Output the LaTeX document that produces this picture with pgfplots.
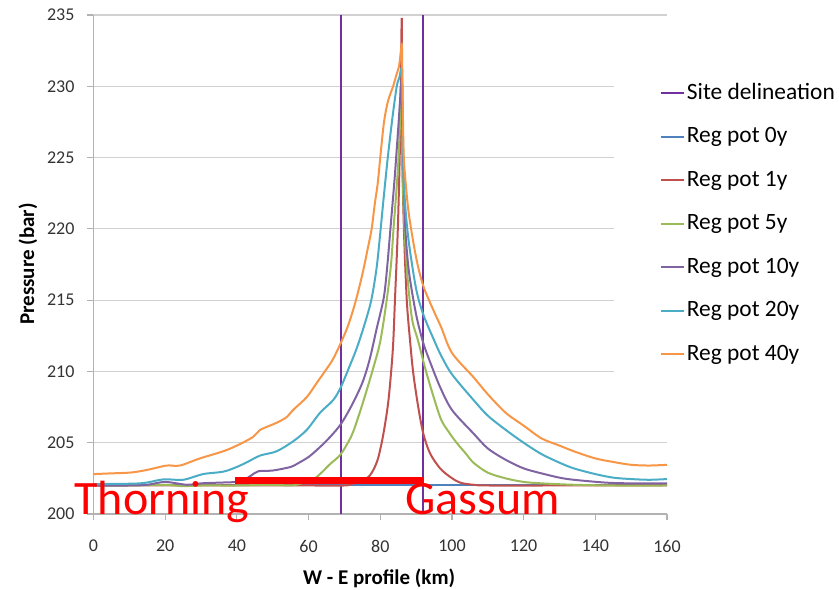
\documentclass[border=0pt]{standalone}
\usepackage{pgfplots}
\pgfplotsset{compat=1.18}
\usepackage{fontspec}
\setmainfont{Carlito}

\definecolor{sitecol}{HTML}{7030A0}
\definecolor{c0}{HTML}{4F81BD}
\definecolor{c1}{HTML}{C0504D}
\definecolor{c5}{HTML}{9BBB59}
\definecolor{c10}{HTML}{8064A2}
\definecolor{c20}{HTML}{4BACC6}
\definecolor{c40}{HTML}{F79646}

\begin{document}
\begin{tikzpicture}
\begin{axis}[
  at={(0,0)}, anchor=south west,
  width=286.75pt, height=249.5pt, scale only axis,
  xmin=0, xmax=160, ymin=200, ymax=235,
  xtick={0,20,...,160}, ytick={200,205,...,235},
  axis x line*=bottom, axis y line*=left,
  x axis line style={-}, y axis line style={-},
  axis line style={draw=black!30, line width=0.6pt},
  tick style={draw=black!30, line width=0.6pt},
  tick align=outside, major tick length=3pt,
  ymajorgrids, major grid style={draw=black!18, line width=0.6pt},
  /pgf/number format/assume math mode=true,
  tick label style={font=\fontsize{9}{10}\selectfont, text=black!80},
  xticklabel style={yshift=-6.5pt},
  yticklabel style={xshift=-3pt},
  xlabel={\textbf{W - E profile (km)}},
  ylabel={\textbf{Pressure (bar)}},
  label style={font=\fontsize{10.5}{12}\selectfont},
  xlabel style={at={(axis description cs:0.498,-0.128)}, anchor=center},
  ylabel style={at={(axis description cs:-0.1142,0.501)}, anchor=center, rotate=0},
  clip=false,
  unbounded coords=jump,
  legend cell align=left,
  legend image code/.code={\draw[#1] (0pt,0pt) -- (11.5pt,0pt);},
  legend style={at={(axis description cs:0.9076,0.8898)}, anchor=north west,
    draw=none, fill=white, font=\fontsize{11.7}{13}\selectfont,
    inner xsep=23pt, inner ysep=5.5pt, row sep=9.75pt,
    nodes={inner xsep=0.75pt, inner ysep=0pt, text height=9pt, text depth=3pt}},
  every axis plot/.append style={line width=1pt},
  curve/.style={smooth, tension=0.5},
]
% site delineation
\addplot[sitecol] coordinates {(69,200) (69,235) (92,nan) (92,235) (92,200)};
\addlegendentry{Site delineation}
% 0y
\addplot[c0] coordinates {(0,202.05) (20,202.05) (40,202.05) (60,202.05) (80,202.05) (100,202.05) (120,202.05) (140,202.05) (160,202.05)};
\addlegendentry{Reg pot 0y}
% 1y
\addplot[c1, curve] coordinates {(0,202.0) (20,202.0) (40,202.0) (60,202.0) (70,202.0) (72,202.1) (74,202.25) (76,202.45)
 (77.1,202.7) (78.3,203.2) (79.5,204.0) (80.9,205.65) (82.3,208.0) (83.5,211.5) (84.1,215) (84.9,220) (85.5,226) (86,234.8)
 (86.1,226) (86.6,220) (87.4,215) (88.3,212.2) (89.2,209.9) (90.6,207.5) (92,205.65) (93.9,204.25) (96.7,203.2) (99.5,202.6)
 (102.3,202.2) (106,202.05) (110,202.0) (130,202.0) (160,202.0)};
\addlegendentry{Reg pot 1y}
% 5y
\addplot[c5, curve] coordinates {(0,202.0) (10,202.0) (20,202.05) (25,201.95) (30,202.0) (40,202.0) (50,202.05) (55,202.0)
 (58,202.15) (62,202.55) (66,203.5) (69,204.2) (72,205.5) (74,206.9) (76,208.5) (78,210.2) (80,212.1) (81.8,215)
 (83,217.5) (83.7,220) (85,224.5) (86,230)
 (86.15,225) (86.6,221) (87.2,218) (88,215.5) (89,213.5) (90.5,212.2) (93,209.8) (96.7,206.8) (99,205.8) (101.3,205.0)
 (104,204.2) (106,203.6) (110,202.9) (115,202.5) (120,202.25) (125,202.15) (134,202.05) (145,202.0) (160,202.0)};
\addlegendentry{Reg pot 5y}
% 10y
\addplot[c10, curve] coordinates {(0,202.0) (10,202.0) (15,202.05) (20,202.25) (26,202.05) (30,202.15) (35,202.2) (40,202.25)
 (42,202.4) (44,202.7) (46,203.0) (50,203.05) (55,203.3) (57,203.55) (60,204.0) (63,204.65) (66,205.4) (69,206.3)
 (72,207.6) (75,209.2) (77,210.8) (79,213) (81,215.2) (82,217.5) (83,220.5) (84,223.5) (85,227) (86,230.5)
 (86.15,227) (86.5,224) (87,220) (88,217) (90,214) (92,212.0) (94,210.6) (96.7,208.9) (100,207.3) (106,205.65) (110,204.6)
 (115,203.8) (120,203.2) (125,202.85) (130,202.55) (134,202.4) (143,202.2) (150,202.15) (160,202.15)};
\addlegendentry{Reg pot 10y}
% 20y
\addplot[c20, curve] coordinates {(0,202.1) (13,202.15) (19.5,202.43) (25,202.4) (30.6,202.8) (36.2,202.97) (40,203.3)
 (43.1,203.67) (46.5,204.1) (51.1,204.4) (55.7,205.1) (59.5,205.9) (63.2,207.1) (66.9,208.0) (69,208.9) (71.5,210.4)
 (73.4,211.6) (75.5,213.2) (77.5,215) (79,217.3) (80,219.7) (81,222.3) (82.1,225) (83.4,227.8) (84.6,230) (85.3,230.6) (86,231.3)
 (86.15,230) (86.5,224) (87,221.5) (88,219) (90,215.8) (92,214.0) (95,212.2) (97,211.1) (100,209.8) (106,208.0) (110,206.9)
 (115,205.9) (120,205.0) (125,204.2) (130,203.6) (134,203.2) (140,202.8) (145,202.55) (150,202.45) (155,202.4) (160,202.45)};
\addlegendentry{Reg pot 20y}
% 40y
\addplot[c40, curve] coordinates {(0,202.8) (5,202.85) (10,202.9) (13,203.0) (16,203.15) (20.4,203.4) (24.1,203.4) (29.7,203.9)
 (36.2,204.4) (40,204.8) (44.5,205.4) (46.5,205.9) (51.1,206.4) (53.9,206.8) (55.7,207.3) (59.5,208.2) (62.3,209.2)
 (65.1,210.2) (66.9,210.9) (69,212.0) (71,213.2) (73,214.8) (75,216.8) (76.5,218.6) (77.6,220) (78.5,221.8) (79.3,223.2)
 (80,225) (81,227.4) (82,228.8) (83,229.6) (83.6,230) (84.5,230.8) (85.3,231.5) (86,232.9)
 (86.15,231) (86.5,225.5) (87,223.5) (88,221) (90,218) (92,216) (95,214.2) (97,213.1) (100,211.3) (106,209.6) (110,208.4)
 (115,207.1) (120,206.2) (125,205.3) (130,204.8) (134,204.4) (140,203.9) (145,203.65) (150,203.45) (155,203.4) (160,203.45)};
\addlegendentry{Reg pot 40y}
% red annotation bar
\addplot[red, line width=3.3pt, forget plot] coordinates {(39.5,202.34) (91.9,202.34)};
\node[anchor=base west, inner sep=0pt, text=red, font=\fontsize{24}{24}\selectfont] at (axis cs:-5.4,200) {Thorning};
\node[anchor=base west, inner sep=0pt, text=red, font=\fontsize{24}{24}\selectfont] at (axis cs:86.9,199.95) {Gassum};
\end{axis}
\pgfresetboundingbox
\path[use as bounding box] (-46.75pt,-37.5pt) rectangle (372.75pt,257pt);
\end{tikzpicture}
\end{document}
